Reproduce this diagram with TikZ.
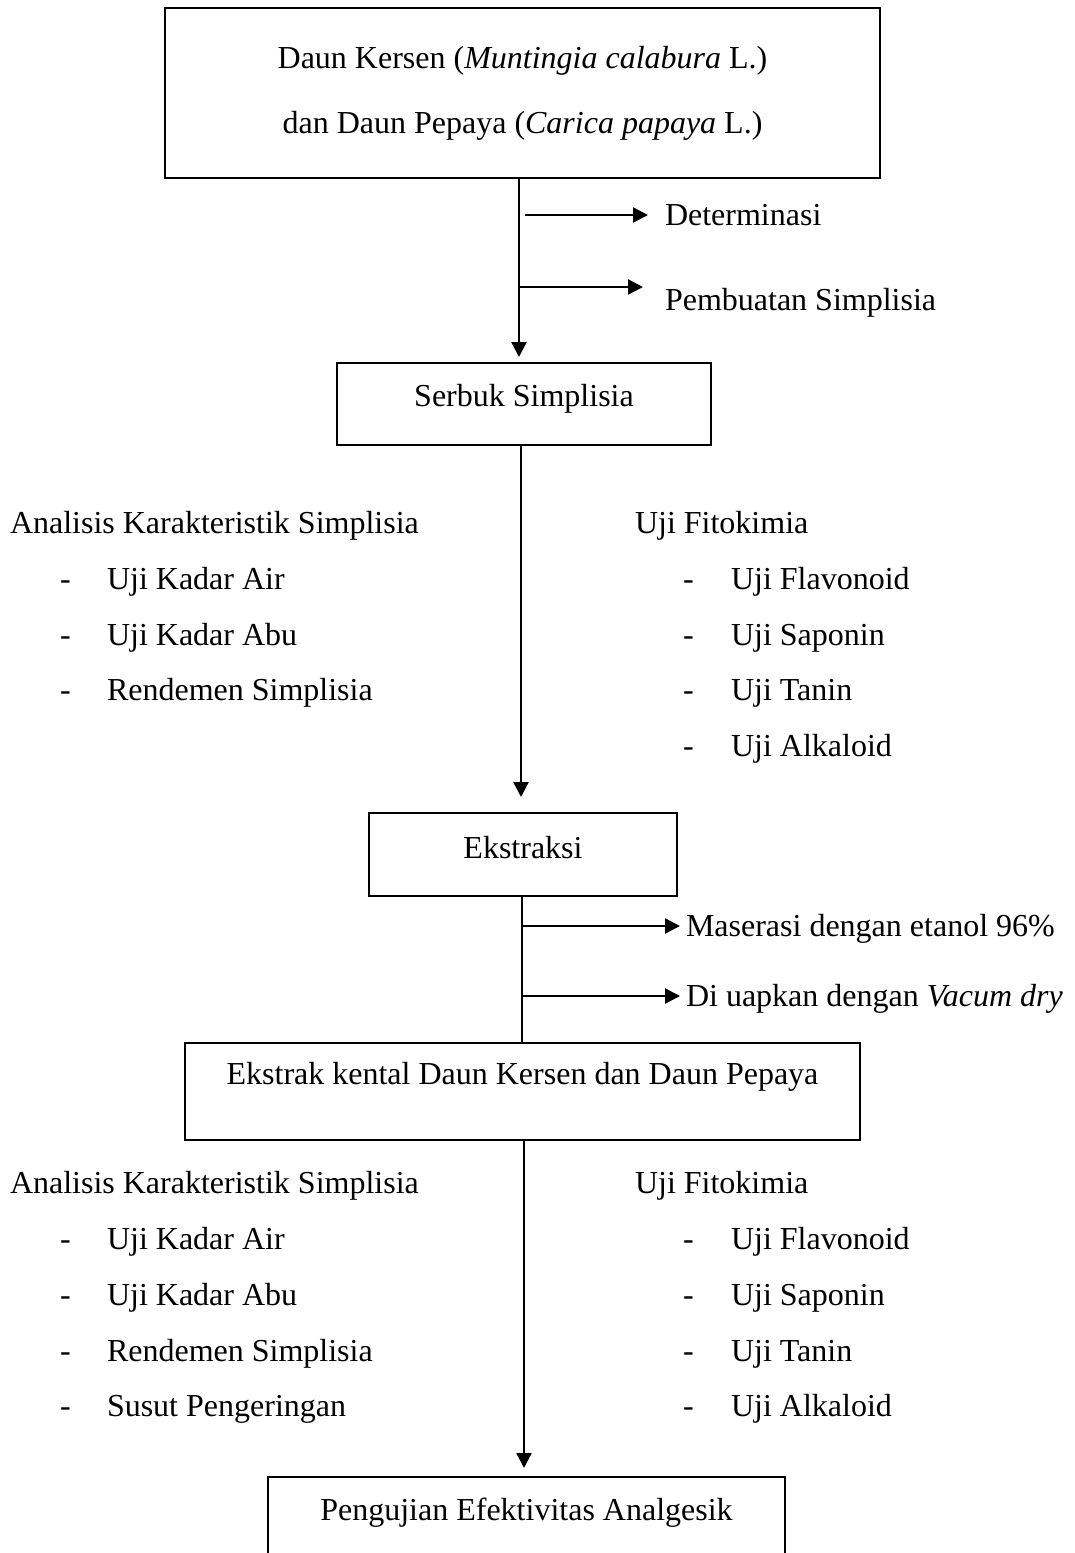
\documentclass[tikz,border=0pt]{standalone}
\usepackage{fontspec}
\setmainfont{Liberation Serif}
\usetikzlibrary{arrows.meta,calc}
\begin{document}
\begin{tikzpicture}[x=1pt,y=-1pt,
  every node/.style={inner sep=0pt, outer sep=0pt, font=\fontsize{32}{39}\selectfont},
  flowbox/.style={draw, line width=2.6pt, rectangle, align=center, text height=21pt},
  txt/.style={anchor=west, text height=21pt, text depth=0pt},
  arr/.style={line width=2.4pt, -{Triangle[length=15pt,width=15pt]}},
  ln/.style={line width=2.4pt}]
\useasboundingbox (0,0) rectangle (1075,1553);
\clip (0,0) rectangle (1075,1553);

% boxes
\node[flowbox, minimum width=715pt, minimum height=170pt,
      font=\fontsize{32}{65}\selectfont, text height=, text depth=] (top) at (522.5,93)
  {Daun Kersen (\textit{Muntingia calabura} L.)\\dan Daun Pepaya (\textit{Carica papaya} L.)};
\node[flowbox, minimum width=374pt, minimum height=82pt, text depth=16pt] (serbuk) at (524,404) {Serbuk Simplisia};
\node[flowbox, minimum width=308pt, minimum height=83pt, text depth=14pt] (ekstraksi) at (523,854.5) {Ekstraksi};
\node[flowbox, minimum width=675pt, minimum height=97pt, text depth=36pt] (kental) at (522.5,1091.5) {Ekstrak kental Daun Kersen dan Daun Pepaya};
\node[flowbox, minimum width=517pt, minimum height=123pt, text depth=57pt] (uji) at (526.5,1538.5) {Pengujian Efektivitas Analgesik};

% line x positions
\coordinate (c1) at (519,0);
\coordinate (c2) at (521,0);
\coordinate (c3) at (522,0);
\coordinate (c4) at (524,0);

% main flow
\draw[arr, shorten >=6pt] (top.south -| c1) -- (serbuk.north -| c1);
\draw[arr, shorten >=16pt] (serbuk.south -| c2) -- (ekstraksi.north -| c2);
\draw[ln] (ekstraksi.south -| c3) -- (kental.north -| c3);
\draw[arr, shorten >=9pt] (kental.south -| c4) -- (uji.north -| c4);

% side steps
\node[txt] (det) at (665,215) {Determinasi};
\node[txt] (pemb) at (665,300) {Pembuatan Simplisia};
\node[txt] (mas) at (686,926) {Maserasi dengan etanol 96\%};
\node[txt] (uap) at (686,996) {Di uapkan dengan \textit{Vacum dry}};

\coordinate (s1) at (525,215);
\coordinate (e1) at (648,215);
\coordinate (s2) at (519,287);
\coordinate (e2) at (643,287);
\coordinate (s3) at (522,926);
\coordinate (e3) at (680,926);
\coordinate (s4) at (522,996);
\coordinate (e4) at (680,996);
\draw[arr] (s1) -- (e1);
\draw[arr] (s2) -- (e2);
\draw[arr] (s3) -- (e3);
\draw[arr] (s4) -- (e4);

% first lists
\node[txt] (ak1) at (10,523) {Analisis Karakteristik Simplisia};
\node[txt] (ak1d1) at (60,579) {-};
\node[txt] (ak1t1) at (107,579) {Uji Kadar Air};
\node[txt] (ak1d2) at (60,635) {-};
\node[txt] (ak1t2) at (107,635) {Uji Kadar Abu};
\node[txt] (ak1d3) at (60,690) {-};
\node[txt] (ak1t3) at (107,690) {Rendemen Simplisia};

\node[txt] (uf1) at (635,523) {Uji Fitokimia};
\node[txt] (uf1d1) at (683,579) {-};
\node[txt] (uf1t1) at (731,579) {Uji Flavonoid};
\node[txt] (uf1d2) at (683,635) {-};
\node[txt] (uf1t2) at (731,635) {Uji Saponin};
\node[txt] (uf1d3) at (683,690) {-};
\node[txt] (uf1t3) at (731,690) {Uji Tanin};
\node[txt] (uf1d4) at (683,746) {-};
\node[txt] (uf1t4) at (731,746) {Uji Alkaloid};

% second lists
\node[txt] (ak2) at (10,1183) {Analisis Karakteristik Simplisia};
\node[txt] (ak2d1) at (60,1239) {-};
\node[txt] (ak2t1) at (107,1239) {Uji Kadar Air};
\node[txt] (ak2d2) at (60,1295) {-};
\node[txt] (ak2t2) at (107,1295) {Uji Kadar Abu};
\node[txt] (ak2d3) at (60,1351) {-};
\node[txt] (ak2t3) at (107,1351) {Rendemen Simplisia};
\node[txt] (ak2d4) at (60,1406) {-};
\node[txt] (ak2t4) at (107,1406) {Susut Pengeringan};

\node[txt] (uf2) at (635,1183) {Uji Fitokimia};
\node[txt] (uf2d1) at (683,1239) {-};
\node[txt] (uf2t1) at (731,1239) {Uji Flavonoid};
\node[txt] (uf2d2) at (683,1295) {-};
\node[txt] (uf2t2) at (731,1295) {Uji Saponin};
\node[txt] (uf2d3) at (683,1351) {-};
\node[txt] (uf2t3) at (731,1351) {Uji Tanin};
\node[txt] (uf2d4) at (683,1406) {-};
\node[txt] (uf2t4) at (731,1406) {Uji Alkaloid};
\end{tikzpicture}
\end{document}
